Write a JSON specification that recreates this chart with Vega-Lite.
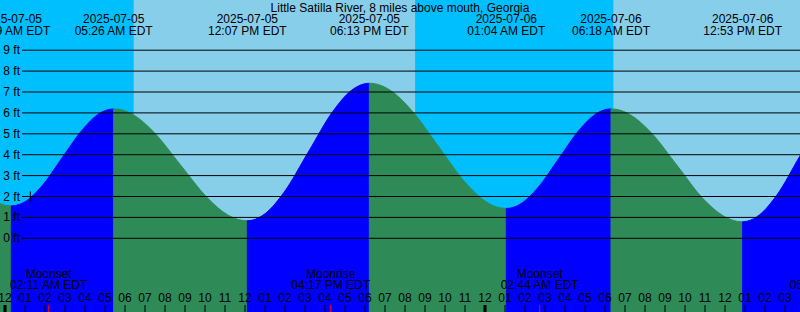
{
  "$schema": "https://vega.github.io/schema/vega-lite/v6.json",
  "width": 800,
  "height": 312,
  "padding": 0,
  "autosize": {"type": "none"},
  "background": "#00bfff",
  "config": {"view": {"stroke": null}},
  "datasets": {
    "sun": [
      {"start": "2025-07-04T20:31Z", "end": "2025-07-05T06:26Z", "period": "night"},
      {"start": "2025-07-05T06:26Z", "end": "2025-07-05T20:31Z", "period": "day"},
      {"start": "2025-07-05T20:31Z", "end": "2025-07-06T06:25Z", "period": "night"},
      {"start": "2025-07-06T06:25Z", "end": "2025-07-06T20:31Z", "period": "day"}
    ],
    "tide": [
      {"seg": "f0", "dir": "fall", "t": "2025-07-04T22:27Z", "ft": 2.65},
      {"seg": "f0", "dir": "fall", "t": "2025-07-04T23:23Z", "ft": 1.84},
      {"seg": "f0", "dir": "fall", "t": "2025-07-05T00:04Z", "ft": 1.57},
      {"seg": "f0", "dir": "fall", "t": "2025-07-05T00:19Z", "ft": 1.55},
      {"seg": "r1", "dir": "rise", "t": "2025-07-05T00:19Z", "ft": 1.55},
      {"seg": "r1", "dir": "rise", "t": "2025-07-05T00:31Z", "ft": 1.57},
      {"seg": "r1", "dir": "rise", "t": "2025-07-05T01:05Z", "ft": 1.80},
      {"seg": "r1", "dir": "rise", "t": "2025-07-05T01:51Z", "ft": 2.51},
      {"seg": "r1", "dir": "rise", "t": "2025-07-05T02:52Z", "ft": 3.87},
      {"seg": "r1", "dir": "rise", "t": "2025-07-05T03:54Z", "ft": 5.23},
      {"seg": "r1", "dir": "rise", "t": "2025-07-05T04:40Z", "ft": 5.94},
      {"seg": "r1", "dir": "rise", "t": "2025-07-05T05:14Z", "ft": 6.17},
      {"seg": "r1", "dir": "rise", "t": "2025-07-05T05:26Z", "ft": 6.19},
      {"seg": "f1", "dir": "fall", "t": "2025-07-05T05:26Z", "ft": 6.19},
      {"seg": "f1", "dir": "fall", "t": "2025-07-05T05:42Z", "ft": 6.17},
      {"seg": "f1", "dir": "fall", "t": "2025-07-05T06:26Z", "ft": 5.90},
      {"seg": "f1", "dir": "fall", "t": "2025-07-05T07:26Z", "ft": 5.09},
      {"seg": "f1", "dir": "fall", "t": "2025-07-05T08:46Z", "ft": 3.52},
      {"seg": "f1", "dir": "fall", "t": "2025-07-05T10:07Z", "ft": 1.94},
      {"seg": "f1", "dir": "fall", "t": "2025-07-05T11:07Z", "ft": 1.13},
      {"seg": "f1", "dir": "fall", "t": "2025-07-05T11:51Z", "ft": 0.86},
      {"seg": "f1", "dir": "fall", "t": "2025-07-05T12:07Z", "ft": 0.84},
      {"seg": "r2", "dir": "rise", "t": "2025-07-05T12:07Z", "ft": 0.84},
      {"seg": "r2", "dir": "rise", "t": "2025-07-05T12:22Z", "ft": 0.87},
      {"seg": "r2", "dir": "rise", "t": "2025-07-05T13:02Z", "ft": 1.20},
      {"seg": "r2", "dir": "rise", "t": "2025-07-05T13:57Z", "ft": 2.20},
      {"seg": "r2", "dir": "rise", "t": "2025-07-05T15:10Z", "ft": 4.13},
      {"seg": "r2", "dir": "rise", "t": "2025-07-05T16:23Z", "ft": 6.06},
      {"seg": "r2", "dir": "rise", "t": "2025-07-05T17:18Z", "ft": 7.06},
      {"seg": "r2", "dir": "rise", "t": "2025-07-05T17:58Z", "ft": 7.39},
      {"seg": "r2", "dir": "rise", "t": "2025-07-05T18:13Z", "ft": 7.42},
      {"seg": "f2", "dir": "fall", "t": "2025-07-05T18:13Z", "ft": 7.42},
      {"seg": "f2", "dir": "fall", "t": "2025-07-05T18:29Z", "ft": 7.40},
      {"seg": "f2", "dir": "fall", "t": "2025-07-05T19:15Z", "ft": 7.09},
      {"seg": "f2", "dir": "fall", "t": "2025-07-05T20:16Z", "ft": 6.19},
      {"seg": "f2", "dir": "fall", "t": "2025-07-05T21:39Z", "ft": 4.43},
      {"seg": "f2", "dir": "fall", "t": "2025-07-05T23:01Z", "ft": 2.67},
      {"seg": "f2", "dir": "fall", "t": "2025-07-06T00:02Z", "ft": 1.76},
      {"seg": "f2", "dir": "fall", "t": "2025-07-06T00:48Z", "ft": 1.45},
      {"seg": "f2", "dir": "fall", "t": "2025-07-06T01:04Z", "ft": 1.43},
      {"seg": "r3", "dir": "rise", "t": "2025-07-06T01:04Z", "ft": 1.43},
      {"seg": "r3", "dir": "rise", "t": "2025-07-06T01:17Z", "ft": 1.45},
      {"seg": "r3", "dir": "rise", "t": "2025-07-06T01:51Z", "ft": 1.69},
      {"seg": "r3", "dir": "rise", "t": "2025-07-06T02:38Z", "ft": 2.41},
      {"seg": "r3", "dir": "rise", "t": "2025-07-06T03:41Z", "ft": 3.81},
      {"seg": "r3", "dir": "rise", "t": "2025-07-06T04:44Z", "ft": 5.21},
      {"seg": "r3", "dir": "rise", "t": "2025-07-06T05:31Z", "ft": 5.93},
      {"seg": "r3", "dir": "rise", "t": "2025-07-06T06:05Z", "ft": 6.17},
      {"seg": "r3", "dir": "rise", "t": "2025-07-06T06:18Z", "ft": 6.19},
      {"seg": "f3", "dir": "fall", "t": "2025-07-06T06:18Z", "ft": 6.19},
      {"seg": "f3", "dir": "fall", "t": "2025-07-06T06:34Z", "ft": 6.17},
      {"seg": "f3", "dir": "fall", "t": "2025-07-06T07:17Z", "ft": 5.90},
      {"seg": "f3", "dir": "fall", "t": "2025-07-06T08:17Z", "ft": 5.08},
      {"seg": "f3", "dir": "fall", "t": "2025-07-06T09:36Z", "ft": 3.49},
      {"seg": "f3", "dir": "fall", "t": "2025-07-06T10:54Z", "ft": 1.90},
      {"seg": "f3", "dir": "fall", "t": "2025-07-06T11:54Z", "ft": 1.08},
      {"seg": "f3", "dir": "fall", "t": "2025-07-06T12:37Z", "ft": 0.81},
      {"seg": "f3", "dir": "fall", "t": "2025-07-06T12:53Z", "ft": 0.79},
      {"seg": "r4", "dir": "rise", "t": "2025-07-06T12:53Z", "ft": 0.79},
      {"seg": "r4", "dir": "rise", "t": "2025-07-06T13:07Z", "ft": 0.82},
      {"seg": "r4", "dir": "rise", "t": "2025-07-06T13:44Z", "ft": 1.13},
      {"seg": "r4", "dir": "rise", "t": "2025-07-06T14:36Z", "ft": 2.08},
      {"seg": "r4", "dir": "rise", "t": "2025-07-06T15:44Z", "ft": 3.92},
      {"seg": "r4", "dir": "rise", "t": "2025-07-06T16:52Z", "ft": 5.76}
    ],
    "extremes": [
      {"t": "2025-07-05T00:19Z", "kind": "Low", "ft": 1.55, "label": "2025-07-05\n12:19 AM EDT"},
      {"t": "2025-07-05T05:26Z", "kind": "High", "ft": 6.19, "label": "2025-07-05\n05:26 AM EDT"},
      {"t": "2025-07-05T12:07Z", "kind": "Low", "ft": 0.84, "label": "2025-07-05\n12:07 PM EDT"},
      {"t": "2025-07-05T18:13Z", "kind": "High", "ft": 7.42, "label": "2025-07-05\n06:13 PM EDT"},
      {"t": "2025-07-06T01:04Z", "kind": "Low", "ft": 1.43, "label": "2025-07-06\n01:04 AM EDT"},
      {"t": "2025-07-06T06:18Z", "kind": "High", "ft": 6.19, "label": "2025-07-06\n06:18 AM EDT"},
      {"t": "2025-07-06T12:53Z", "kind": "Low", "ft": 0.79, "label": "2025-07-06\n12:53 PM EDT"}
    ],
    "moon": [
      {"t": "2025-07-05T02:11Z", "event": "Moonset", "label": "Moonset\n02:11 AM EDT"},
      {"t": "2025-07-05T16:17Z", "event": "Moonrise", "label": "Moonrise\n04:17 PM EDT"},
      {"t": "2025-07-06T02:44Z", "event": "Moonset", "label": "Moonset\n02:44 AM EDT"},
      {"t": "2025-07-06T17:11Z", "event": "Moonrise", "label": "Moonrise\n05:11 PM EDT"}
    ],
    "hours": [
      {"t": "2025-07-05T00:00Z", "h": "12"}, {"t": "2025-07-05T01:00Z", "h": "01"},
      {"t": "2025-07-05T02:00Z", "h": "02"}, {"t": "2025-07-05T03:00Z", "h": "03"},
      {"t": "2025-07-05T04:00Z", "h": "04"}, {"t": "2025-07-05T05:00Z", "h": "05"},
      {"t": "2025-07-05T06:00Z", "h": "06"}, {"t": "2025-07-05T07:00Z", "h": "07"},
      {"t": "2025-07-05T08:00Z", "h": "08"}, {"t": "2025-07-05T09:00Z", "h": "09"},
      {"t": "2025-07-05T10:00Z", "h": "10"}, {"t": "2025-07-05T11:00Z", "h": "11"},
      {"t": "2025-07-05T12:00Z", "h": "12"}, {"t": "2025-07-05T13:00Z", "h": "01"},
      {"t": "2025-07-05T14:00Z", "h": "02"}, {"t": "2025-07-05T15:00Z", "h": "03"},
      {"t": "2025-07-05T16:00Z", "h": "04"}, {"t": "2025-07-05T17:00Z", "h": "05"},
      {"t": "2025-07-05T18:00Z", "h": "06"}, {"t": "2025-07-05T19:00Z", "h": "07"},
      {"t": "2025-07-05T20:00Z", "h": "08"}, {"t": "2025-07-05T21:00Z", "h": "09"},
      {"t": "2025-07-05T22:00Z", "h": "10"}, {"t": "2025-07-05T23:00Z", "h": "11"},
      {"t": "2025-07-06T00:00Z", "h": "12"}, {"t": "2025-07-06T01:00Z", "h": "01"},
      {"t": "2025-07-06T02:00Z", "h": "02"}, {"t": "2025-07-06T03:00Z", "h": "03"},
      {"t": "2025-07-06T04:00Z", "h": "04"}, {"t": "2025-07-06T05:00Z", "h": "05"},
      {"t": "2025-07-06T06:00Z", "h": "06"}, {"t": "2025-07-06T07:00Z", "h": "07"},
      {"t": "2025-07-06T08:00Z", "h": "08"}, {"t": "2025-07-06T09:00Z", "h": "09"},
      {"t": "2025-07-06T10:00Z", "h": "10"}, {"t": "2025-07-06T11:00Z", "h": "11"},
      {"t": "2025-07-06T12:00Z", "h": "12"}, {"t": "2025-07-06T13:00Z", "h": "01"},
      {"t": "2025-07-06T14:00Z", "h": "02"}, {"t": "2025-07-06T15:00Z", "h": "03"}
    ],
    "levels": [
      {"ft": 0, "name": "0 ft"}, {"ft": 1, "name": "1 ft"}, {"ft": 2, "name": "2 ft"},
      {"ft": 3, "name": "3 ft"}, {"ft": 4, "name": "4 ft"}, {"ft": 5, "name": "5 ft"},
      {"ft": 6, "name": "6 ft"}, {"ft": 7, "name": "7 ft"}, {"ft": 8, "name": "8 ft"},
      {"ft": 9, "name": "9 ft"}
    ],
    "marker": [
      {"t": "2025-07-05T01:16Z", "ft": 2}
    ],
    "station": [
      {"name": "Little Satilla River, 8 miles above mouth, Georgia"}
    ]
  },
  "resolve": {"scale": {"color": "independent", "stroke": "independent"}},
  "layer": [
    {
      "data": {"name": "sun"},
      "mark": {"type": "rect", "clip": true, "opacity": 1},
      "encoding": {
        "x": {
          "field": "start", "type": "temporal", "axis": null,
          "scale": {"type": "utc", "domain": [
            {"year": 2025, "month": 7, "date": 4, "hours": 23, "minutes": 45, "utc": true},
            {"year": 2025, "month": 7, "date": 6, "hours": 15, "minutes": 45, "utc": true}
          ]}
        },
        "x2": {"field": "end"},
        "color": {"field": "period", "type": "nominal", "scale": {"domain": ["night", "day"], "range": ["#00bfff", "#87ceeb"]}, "legend": null}
      }
    },
    {
      "data": {"name": "tide"},
      "mark": {"type": "area", "interpolate": "monotone", "clip": true, "opacity": 1, "fillOpacity": 1, "strokeWidth": 1},
      "encoding": {
        "x": {"field": "t", "type": "temporal", "axis": null},
        "y": {"field": "ft", "type": "quantitative", "stack": null, "axis": null,
          "scale": {"domain": [-3.526, 11.402], "nice": false, "zero": false}},
        "y2": {"datum": -3.6},
        "detail": {"field": "seg", "type": "nominal"},
        "color": {"field": "dir", "type": "nominal", "scale": {"domain": ["rise", "fall"], "range": ["#0000ff", "#2e8b57"]}, "legend": null},
        "stroke": {"field": "dir", "type": "nominal", "scale": {"domain": ["rise", "fall"], "range": ["#0000ff", "#2e8b57"]}, "legend": null}
      }
    },
    {
      "data": {"name": "levels"},
      "mark": {"type": "rule", "color": "#000000", "strokeWidth": 1},
      "encoding": {
        "y": {"field": "ft", "type": "quantitative", "axis": null},
        "x": {"datum": {"year": 2025, "month": 7, "date": 5, "hours": 0, "minutes": 51, "utc": true}, "type": "temporal", "axis": null},
        "x2": {"datum": {"year": 2025, "month": 7, "date": 6, "hours": 15, "minutes": 45, "utc": true}}
      }
    },
    {
      "data": {"name": "levels"},
      "mark": {"type": "text", "font": "Liberation Sans", "fontSize": 12, "color": "#000000", "align": "right", "baseline": "middle"},
      "encoding": {
        "y": {"field": "ft", "type": "quantitative", "axis": null},
        "x": {"datum": {"year": 2025, "month": 7, "date": 5, "hours": 0, "minutes": 45, "utc": true}, "type": "temporal", "axis": null},
        "text": {"field": "name", "type": "nominal"}
      }
    },
    {
      "data": {"name": "marker"},
      "mark": {"type": "tick", "orient": "vertical", "size": 10, "thickness": 1, "color": "#000000", "opacity": 1},
      "encoding": {
        "x": {"field": "t", "type": "temporal", "axis": null},
        "y": {"field": "ft", "type": "quantitative", "axis": null}
      }
    },
    {
      "data": {"name": "station"},
      "mark": {"type": "text", "font": "Liberation Sans", "fontSize": 12, "color": "#000000", "align": "center", "baseline": "alphabetic"},
      "encoding": {
        "x": {"datum": {"year": 2025, "month": 7, "date": 5, "hours": 19, "minutes": 45, "utc": true}, "type": "temporal", "axis": null},
        "y": {"datum": 10.83, "type": "quantitative", "axis": null},
        "text": {"field": "name", "type": "nominal"}
      }
    },
    {
      "data": {"name": "extremes"},
      "mark": {"type": "text", "font": "Liberation Sans", "fontSize": 12, "color": "#000000", "align": "center", "baseline": "alphabetic", "lineBreak": "\n", "lineHeight": 11.7},
      "encoding": {
        "x": {"field": "t", "type": "temporal", "axis": null},
        "y": {"datum": 10.287, "type": "quantitative", "axis": null},
        "text": {"field": "label", "type": "nominal"}
      }
    },
    {
      "data": {"name": "moon"},
      "mark": {"type": "text", "font": "Liberation Sans", "fontSize": 12, "color": "#000000", "align": "center", "baseline": "alphabetic", "lineBreak": "\n", "lineHeight": 11.2},
      "encoding": {
        "x": {"field": "t", "type": "temporal", "axis": null},
        "y": {"datum": -1.914, "type": "quantitative", "axis": null},
        "text": {"field": "label", "type": "nominal"}
      }
    },
    {
      "data": {"name": "hours"},
      "mark": {"type": "text", "font": "Liberation Sans", "fontSize": 12, "color": "#000000", "align": "center", "baseline": "alphabetic"},
      "encoding": {
        "x": {"field": "t", "type": "temporal", "axis": null},
        "y": {"datum": -3.048, "type": "quantitative", "axis": null},
        "text": {"field": "h", "type": "nominal"}
      }
    },
    {
      "data": {"name": "hours"},
      "mark": {"type": "rule", "color": "#000000"},
      "encoding": {
        "x": {"field": "t", "type": "temporal", "axis": null},
        "y": {"datum": -3.526, "type": "quantitative", "axis": null},
        "y2": {"datum": -3.19},
        "strokeWidth": {"condition": {"test": "utchours(datum.t) === 0", "value": 3}, "value": 1}
      }
    },
    {
      "data": {"name": "moon"},
      "mark": {"type": "rule", "color": "#ff0000", "strokeWidth": 1},
      "encoding": {
        "x": {"field": "t", "type": "temporal", "axis": null},
        "y": {"datum": -3.526, "type": "quantitative", "axis": null},
        "y2": {"datum": -3.19}
      }
    }
  ]
}
